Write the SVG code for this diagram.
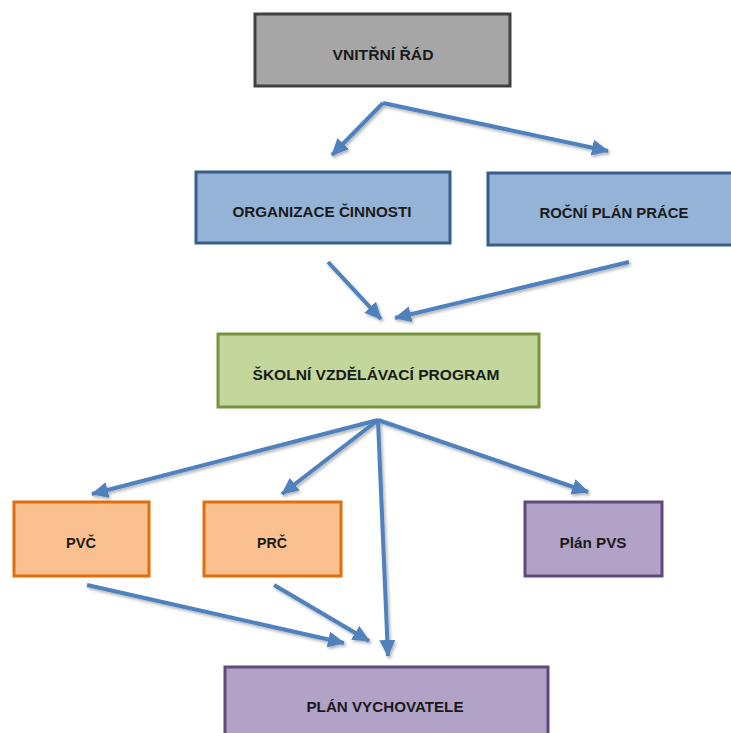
<svg xmlns="http://www.w3.org/2000/svg" width="731" height="733" viewBox="0 0 731 733">
<style>
.box{stroke-width:3}
.grey{fill:#a6a6a6;stroke:#404040}
.blue{fill:#95b3d7;stroke:#385d8a}
.green{fill:#c3d69b;stroke:#77933c}
.orange{fill:#fac090;stroke:#e46c0a}
.purple{fill:#b2a2c7;stroke:#604a7b}
text{font-family:"Liberation Sans",Arial,sans-serif;font-weight:bold;font-size:14px;fill:#1a1a1a;text-anchor:middle}
.c line,.c polyline{stroke:#4f81bd;stroke-width:4;fill:none;marker-end:url(#ah)}
</style>
<defs>
<marker id="ah" markerUnits="userSpaceOnUse" markerWidth="18" markerHeight="18" viewBox="0 0 18 18" refX="16" refY="9" orient="auto">
<path d="M0,1 L17,9 L0,17 Z" fill="#4f81bd"/>
</marker>
<filter id="sh" x="-10%" y="-10%" width="130%" height="130%">
<feDropShadow dx="1.5" dy="2" stdDeviation="1.5" flood-color="#000" flood-opacity="0.3"/>
</filter>
</defs>
<rect width="731" height="733" fill="#fff"/>
<g id="vnitrni-rad"><rect class="box grey" x="255" y="14" width="255" height="72"/><text x="383" y="60" textLength="101" lengthAdjust="spacingAndGlyphs">VNITŘNÍ ŘÁD</text></g>
<g id="organizace"><rect class="box blue" x="196" y="172" width="254" height="71"/><text x="322" y="217" textLength="179" lengthAdjust="spacingAndGlyphs">ORGANIZACE ČINNOSTI</text></g>
<g id="rocni-plan"><rect class="box blue" x="488" y="173" width="250" height="72"/><text x="614" y="218" textLength="149" lengthAdjust="spacingAndGlyphs">ROČNÍ PLÁN PRÁCE</text></g>
<g id="svp"><rect class="box green" x="218" y="334" width="321" height="73"/><text x="376" y="380" textLength="247" lengthAdjust="spacingAndGlyphs">ŠKOLNÍ VZDĚLÁVACÍ PROGRAM</text></g>
<g id="pvc"><rect class="box orange" x="14" y="502" width="135" height="74"/><text x="81" y="548" textLength="30" lengthAdjust="spacingAndGlyphs">PVČ</text></g>
<g id="prc"><rect class="box orange" x="204" y="502" width="137" height="74"/><text x="272" y="548" textLength="30" lengthAdjust="spacingAndGlyphs">PRČ</text></g>
<g id="plan-pvs"><rect class="box purple" x="525" y="502" width="137" height="74"/><text x="593" y="548" textLength="67" lengthAdjust="spacingAndGlyphs">Plán PVS</text></g>
<g id="plan-vychovatele"><rect class="box purple" x="225" y="667" width="323" height="72"/><text x="385" y="712" textLength="157" lengthAdjust="spacingAndGlyphs">PLÁN VYCHOVATELE</text></g>
<g id="connectors" class="c" filter="url(#sh)">
<polyline points="383,103 332,155"/>
<polyline points="383,103 608,151"/>
<line x1="328" y1="262" x2="381" y2="319"/>
<line x1="629" y1="262" x2="395" y2="318"/>
<line x1="378" y1="420" x2="92" y2="494"/>
<line x1="378" y1="420" x2="282" y2="494"/>
<line x1="378" y1="420" x2="588" y2="492"/>
<line x1="378" y1="420" x2="388" y2="656"/>
<line x1="87" y1="585" x2="344" y2="643"/>
<line x1="274" y1="585" x2="369" y2="641"/>
</g>
</svg>
